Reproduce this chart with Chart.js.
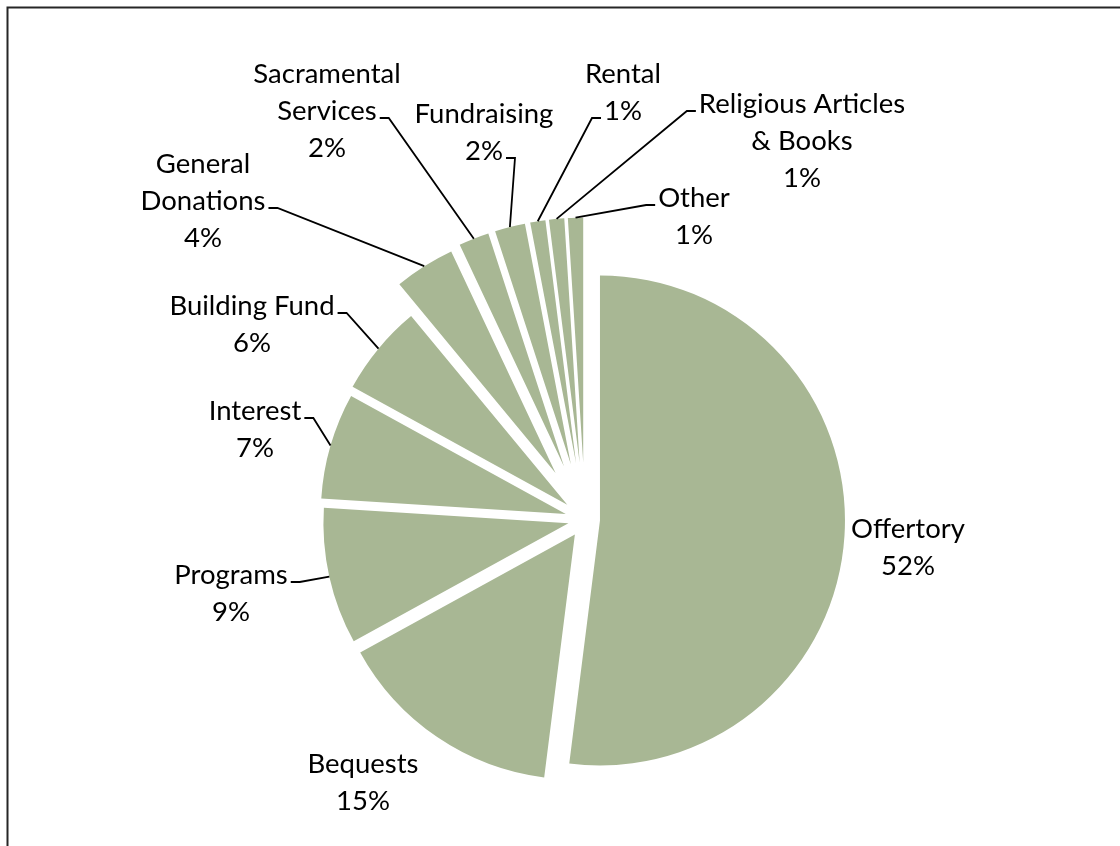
<!DOCTYPE html>
<html>
<head>
<meta charset="utf-8">
<title>Income</title>
<script src="https://cdn.jsdelivr.net/npm/chart.js@4/dist/chart.umd.min.js"></script>
<style>
  body { margin: 0; background: #fff; }
  #chart { display: block; }
</style>
</head>
<body>
<canvas id="chart" width="1120" height="846"></canvas>
<script>
// data (percent of total income)
const categories = [
    ['Offertory'], ['Bequests'], ['Programs'], ['Interest'], ['Building Fund'],
    ['General', 'Donations'], ['Sacramental', 'Services'], ['Fundraising'],
    ['Rental'], ['Religious Articles', '& Books'], ['Other']
];
const values = [52, 15, 9, 7, 6, 4, 2, 2, 1, 1, 1];

// how far each slice is pulled out (px)
const explode = [15, 18, 17, 20, 23, 55, 57, 57, 57, 57, 57];

// label placement: centre x, baseline of first line, line the leader starts from, side
const labelPos = [
    { x: 908, y: 538, lead: -1 },
    { x: 363, y: 773, lead: -1 },
    { x: 231, y: 584, lead: 0, side: 'r' },
    { x: 255, y: 420, lead: 0, side: 'r' },
    { x: 252, y: 315, lead: 0, side: 'r' },
    { x: 203, y: 173, lead: 1, side: 'r' },
    { x: 327, y: 83, lead: 1, side: 'r' },
    { x: 484, y: 123, lead: 1, side: 'r' },
    { x: 623, y: 83, lead: 1, side: 'l' },
    { x: 802, y: 113, lead: 0, side: 'l' },
    { x: 694, y: 207, lead: 0, side: 'l' }
];

const RADIUS = 245;
const total = values.reduce((a, b) => a + b, 0);
const FONT = '27.5px Lato, "Open Sans", sans-serif';
const LINE_H = 37;

function pieCentre(chart) {
    const a = chart.chartArea;
    return { x: (a.left + a.right) / 2, y: (a.top + a.bottom) / 2 };
}

const frame = {
    id: 'frame',
    beforeDraw(chart) {
        const ctx = chart.ctx;
        ctx.save();
        ctx.strokeStyle = '#262626';
        ctx.lineWidth = 2;
        ctx.strokeRect(7.5, 7.5, 1200, 900);
        ctx.restore();
    }
};

// chart.js' own offset also shrinks thin slices, so pull the slices out by moving their centre
const explodeSlices = {
    id: 'explodeSlices',
    beforeDatasetsDraw(chart) {
        const c = pieCentre(chart);
        chart.getDatasetMeta(0).data.forEach((arc, i) => {
            const mid = (arc.startAngle + arc.endAngle) / 2;
            arc.x = c.x + Math.cos(mid) * explode[i];
            arc.y = c.y + Math.sin(mid) * explode[i];
        });
    }
};

const pieLabels = {
    id: 'pieLabels',
    afterDatasetsDraw(chart) {
        const ctx = chart.ctx;
        const c = pieCentre(chart);
        const arcs = chart.getDatasetMeta(0).data;
        ctx.save();
        ctx.font = FONT;
        ctx.fillStyle = '#000';
        ctx.textAlign = 'center';
        ctx.textBaseline = 'alphabetic';
        ctx.strokeStyle = '#000';
        ctx.lineWidth = 1.8;
        arcs.forEach((arc, i) => {
            const pos = labelPos[i];
            const lines = categories[i].concat([Math.round(values[i] / total * 100) + '%']);
            lines.forEach((t, k) => ctx.fillText(t, pos.x, pos.y + k * LINE_H));
            if (pos.lead < 0) return;
            // point on the slice rim at its mid angle
            const mid = (arc.startAngle + arc.endAngle) / 2;
            const r = arc.outerRadius + explode[i];
            const ex = c.x + Math.cos(mid) * r;
            const ey = c.y + Math.sin(mid) * r;
            const w = ctx.measureText(lines[pos.lead]).width;
            const ly = pos.y + pos.lead * LINE_H - 2;
            const sx = pos.side === 'r' ? pos.x + w / 2 + 3 : pos.x - w / 2 - 3;
            const kx = pos.side === 'r' ? sx + 9 : sx - 9;
            ctx.beginPath();
            ctx.moveTo(sx, ly);
            ctx.lineTo(kx, ly);
            ctx.lineTo(ex, ey);
            ctx.stroke();
        });
        ctx.restore();
    }
};

new Chart(document.getElementById('chart'), {
    type: 'pie',
    data: {
        labels: categories,
        datasets: [{
            data: values,
            backgroundColor: '#a8b794',
            borderWidth: 0
        }]
    },
    options: {
        responsive: false,
        animation: false,
        devicePixelRatio: 1,
        radius: RADIUS,
        layout: { padding: { left: 60, right: 10, top: 203, bottom: 10 } },
        plugins: {
            legend: { display: false },
            tooltip: { enabled: false }
        }
    },
    plugins: [frame, explodeSlices, pieLabels]
});
</script>
</body>
</html>
